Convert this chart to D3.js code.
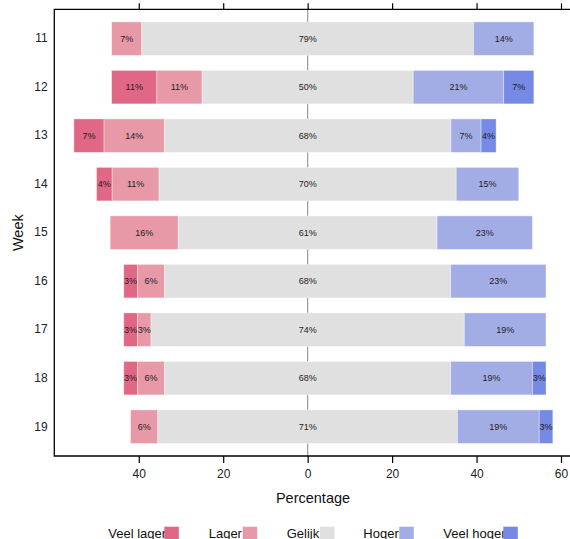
<!DOCTYPE html>
<html>
<head>
<meta charset="utf-8">
<script src="https://cdn.jsdelivr.net/npm/d3@7"></script>
<style>
  html, body { margin: 0; padding: 0; background: #fff; }
  svg { display: block; font-family: "Liberation Sans", Arial, sans-serif; }
</style>
</head>
<body>
<svg id="chart" width="570" height="539"></svg>
<script>
// ---- data (percentages per week) ----
const weeks = ["11", "12", "13", "14", "15", "16", "17", "18", "19"];
const categories = ["Veel lager", "Lager", "Gelijk", "Hoger", "Veel hoger"];
const veelLager = [0, 10.71, 7.14, 3.70, 0, 3.23, 3.23, 3.23, 0];
const lager     = [7.14, 10.71, 14.29, 11.11, 16.13, 6.45, 3.23, 6.45, 6.45];
const gelijk    = [78.57, 50.00, 67.86, 70.37, 61.29, 67.74, 74.19, 67.74, 70.97];
const hoger     = [14.29, 21.43, 7.14, 14.81, 22.58, 22.58, 19.35, 19.35, 19.35];
const veelHoger = [0, 7.14, 3.57, 0, 0, 0, 0, 3.23, 3.23];
const xTicks = [-40, -20, 0, 20, 40, 60];
const colors = ["#e06785", "#e899a8", "#e0e0e0", "#a2ade5", "#7589e5"];

(function () {
// ---- layout ----
const svg = d3.select("#chart");
const pLeft = 54.3, pRight = 571, pTop = 9.3, pBottom = 456;

const x = d3.scaleLinear().domain([-60, 60]).range([pLeft, 561]);
const y = d3.scaleBand().domain(weeks).range([pTop, pBottom])
  .paddingInner(0.31).paddingOuter(0.26);

const seriesVals = [veelLager, lager, gelijk, hoger, veelHoger];

// build segments
const segments = [];
weeks.forEach((w, i) => {
  let start = -(veelLager[i] + lager[i] + gelijk[i] / 2);
  seriesVals.forEach((arr, c) => {
    const v = arr[i];
    if (v > 0) segments.push({ week: w, cat: c, x0: start, x1: start + v, v });
    start += v;
  });
});

// zero line (behind bars)
svg.append("line")
  .attr("x1", x(0)).attr("x2", x(0))
  .attr("y1", pTop).attr("y2", pBottom)
  .attr("stroke", "#9a9a9a").attr("stroke-width", 1.2);

// bars
svg.append("g").selectAll("rect").data(segments).join("rect")
  .attr("x", d => x(d.x0))
  .attr("width", d => x(d.x1) - x(d.x0))
  .attr("y", d => y(d.week))
  .attr("height", y.bandwidth())
  .attr("fill", d => colors[d.cat])
  .attr("stroke", "#ffffff").attr("stroke-opacity", 0.45).attr("stroke-width", 0.8);

// labels
svg.append("g").selectAll("text").data(segments).join("text")
  .attr("x", d => x((d.x0 + d.x1) / 2))
  .attr("y", d => y(d.week) + y.bandwidth() / 2)
  .attr("dy", "0.35em")
  .attr("text-anchor", "middle")
  .attr("font-size", 9)
  .attr("fill", "#222")
  .text(d => Math.round(d.v) + "%");

// axes
const bottomAxis = d3.axisBottom(x).tickValues(xTicks).tickSize(7).tickPadding(6)
  .tickFormat(d => Math.abs(d));
const gB = svg.append("g").attr("transform", `translate(0,${pBottom})`).call(bottomAxis);
gB.select(".domain").remove();
gB.selectAll("text").attr("font-size", 12).attr("fill", "#222")
  .attr("font-family", "Liberation Sans, Arial, sans-serif");
gB.selectAll(".tick line").attr("stroke", "#000").attr("stroke-width", 1.2);

const topAxis = d3.axisTop(x).tickValues(xTicks).tickSize(6).tickFormat("");
const gT = svg.append("g").attr("transform", `translate(0,${pTop})`).call(topAxis);
gT.select(".domain").remove();
gT.selectAll(".tick line").attr("stroke", "#000").attr("stroke-width", 1.2);

const leftAxis = d3.axisLeft(y).tickSize(0).tickPadding(6.6);
const gL = svg.append("g").attr("transform", `translate(${pLeft},0)`).call(leftAxis);
gL.select(".domain").remove();
gL.selectAll("text").attr("font-size", 12).attr("fill", "#222")
  .attr("font-family", "Liberation Sans, Arial, sans-serif");

// panel border lines (left, top, bottom)
svg.append("path")
  .attr("d", `M${pRight},${pTop}H${pLeft}V${pBottom}H${pRight}`)
  .attr("fill", "none").attr("stroke", "#000").attr("stroke-width", 1.3);

// axis titles
svg.append("text")
  .attr("x", 313).attr("y", 503)
  .attr("text-anchor", "middle")
  .attr("font-size", 14.5).attr("fill", "#111")
  .text("Percentage");

svg.append("text")
  .attr("transform", `translate(22.5,${(pTop + pBottom) / 2}) rotate(-90)`)
  .attr("text-anchor", "middle")
  .attr("font-size", 14.5).attr("fill", "#111")
  .text("Week");

// legend
const legendTextX = [108.3, 208.7, 286.7, 363.3, 443.3];
const legendBoxX = [164.3, 242.7, 320, 399.3, 503.3];
const lg = svg.append("g");
categories.forEach((c, i) => {
  lg.append("text")
    .attr("x", legendTextX[i]).attr("y", 538)
    .attr("font-size", 13).attr("fill", "#111")
    .text(c);
  lg.append("rect")
    .attr("x", legendBoxX[i]).attr("y", 526.7)
    .attr("width", 14.5).attr("height", 14.5)
    .attr("fill", colors[i]);
});
})();
</script>
</body>
</html>
